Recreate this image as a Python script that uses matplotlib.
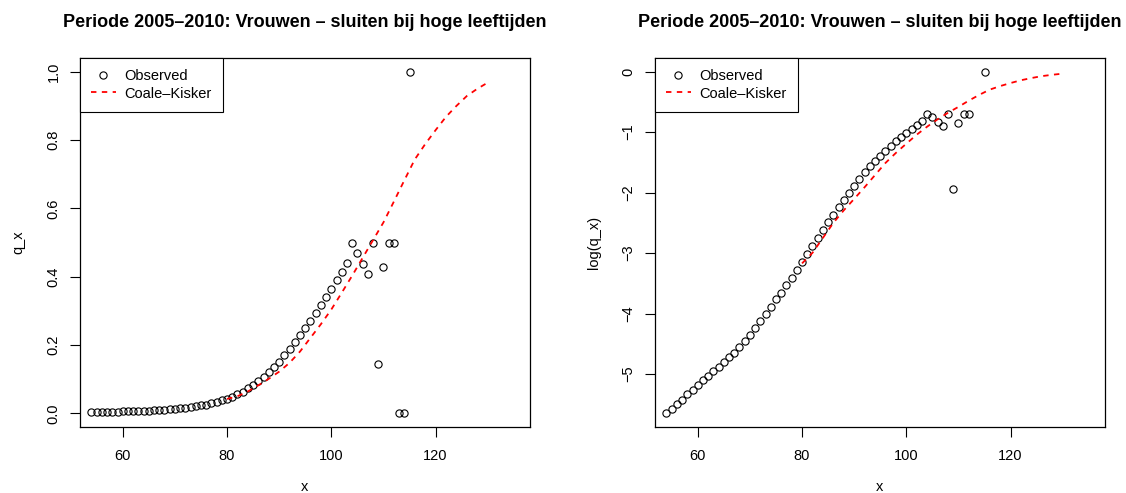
import numpy as np
import matplotlib
matplotlib.use("Agg")
import matplotlib.pyplot as plt
from matplotlib.lines import Line2D

plt.rcParams['font.family'] = ['Liberation Sans', 'DejaVu Sans']

# observed q_x, ages 54..115
ages = list(range(54, 116))
q_obs = [0.00353, 0.00375, 0.00408, 0.00440, 0.00481, 0.00520, 0.00563, 0.00607,
         0.00652, 0.00704, 0.00757, 0.00817, 0.00889, 0.00956, 0.01057, 0.01168,
         0.01278, 0.01441, 0.01624, 0.01804, 0.02036, 0.02312, 0.02583, 0.02918,
         0.03294, 0.03763, 0.04328, 0.04894, 0.05593, 0.06368, 0.07280, 0.08258,
         0.09375, 0.1065, 0.1203, 0.1353, 0.1517, 0.1695, 0.1892, 0.2101,
         0.2297, 0.2496, 0.2712, 0.2929, 0.3166, 0.3399, 0.3653, 0.3906,
         0.4127, 0.4387, 0.500, 0.469, 0.436, 0.409, 0.500, 0.143,
         0.429, 0.500, 0.500, 0.0, 0.0, 1.0]

# Coale-Kisker fitted q_x
ck_age = [80, 82, 84, 86, 88, 90, 92, 94, 96, 98, 100, 102, 104, 106, 108,
          110, 112, 114, 116, 118, 120, 122, 124, 126, 128, 130]
ck_q = [0.042, 0.050, 0.064, 0.082, 0.101, 0.122, 0.148, 0.181, 0.221, 0.261,
        0.304, 0.353, 0.403, 0.455, 0.507, 0.559, 0.620, 0.682, 0.743, 0.788,
        0.829, 0.868, 0.900, 0.929, 0.950, 0.968]

title = "Periode 2005\u20132010: Vrouwen \u2013 sluiten bij hoge leeftijden"

W, H = 1126, 493
fig = plt.figure(figsize=(W / 100, H / 100), dpi=100)
ax1 = fig.add_axes([80 / W, 1 - 427 / H, 450 / W, 369 / H])
ax2 = fig.add_axes([655 / W, 1 - 427 / H, 450 / W, 369 / H])

fs = 10.5
ck_style = dict(color='red', lw=1.3, linestyle=(0, (3, 3)))
obs_style = dict(linestyle='none', marker='o', mfc='none', mec='black',
                 ms=5.2, mew=0.8)

ages_a = np.array(ages)
q_a = np.array(q_obs)
pos = q_a > 0

ax1.plot(ages_a, q_a, **obs_style)
ax1.plot(ck_age, ck_q, **ck_style)
ax1.set_ylim(-0.04, 1.04)
ax1.set_yticks([0, 0.2, 0.4, 0.6, 0.8, 1.0])
ax1.set_yticklabels(["0.0", "0.2", "0.4", "0.6", "0.8", "1.0"])
ax1.set_ylabel("q_x", fontsize=fs, labelpad=15)

ax2.plot(ages_a[pos], np.log(q_a[pos]), **obs_style)
ax2.plot(ck_age, np.log(ck_q), **ck_style)
ax2.set_ylim(-5.876, 0.226)
ax2.set_yticks([-5, -4, -3, -2, -1, 0])
ax2.set_ylabel("log(q_x)", fontsize=fs, labelpad=15)

handles = [Line2D([], [], **obs_style), Line2D([], [], **ck_style)]

for ax in (ax1, ax2):
    ax.set_xlim(51.8, 138.1)
    ax.set_xticks([60, 80, 100, 120])
    ax.set_xlabel("x", fontsize=fs, labelpad=12)
    ax.set_title(title, fontsize=13, fontweight='bold', pad=22)
    ax.tick_params(length=7, width=0.8, pad=7, labelsize=fs)
    ax.tick_params(axis='x', pad=9)
    ax.tick_params(axis='y', labelrotation=90)
    for lab in ax.get_yticklabels():
        lab.set_va('center')
    for sp in ax.spines.values():
        sp.set_linewidth(0.9)
    leg = ax.legend(handles, ["Observed", "Coale\u2013Kisker"], loc='upper left',
                    borderaxespad=0, fancybox=False, edgecolor='black',
                    framealpha=1, fontsize=fs, handlelength=1.7,
                    handletextpad=0.6, borderpad=0.75, labelspacing=0.25)
    leg.get_frame().set_linewidth(0.8)

fig.savefig("out.png", dpi=100)
